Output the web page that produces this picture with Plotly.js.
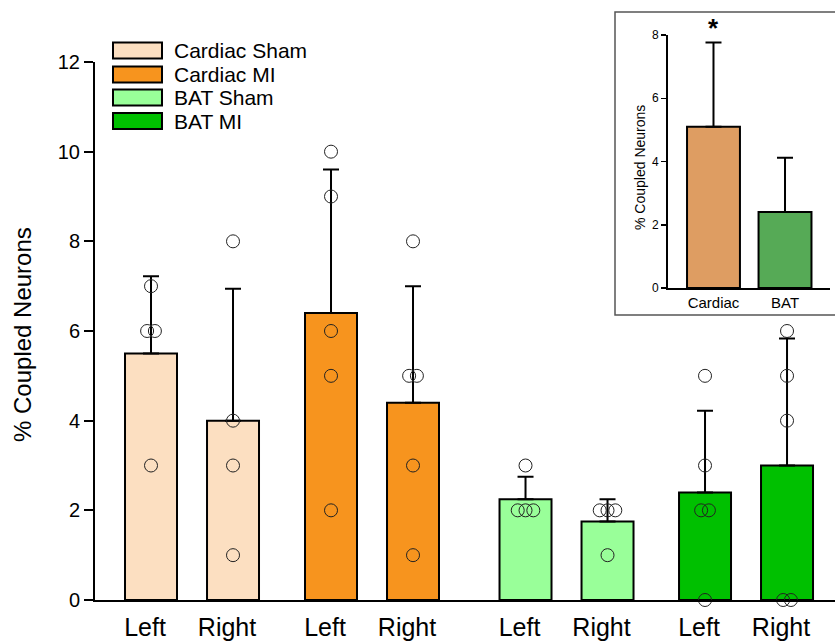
<!DOCTYPE html>
<html>
<head>
<meta charset="utf-8">
<script src="https://cdn.plot.ly/plotly-3.0.1.min.js"></script>
<style>html,body{margin:0;padding:0;background:#fff;}#chart{width:835px;height:642px;}</style>
</head>
<body>
<div id="chart"></div>
<script>
// ---- data ----
const groups = ['Cardiac Sham', 'Cardiac MI', 'BAT Sham', 'BAT MI'];
const sides = ['Left', 'Right'];

const cardiacShamMean = [5.5, 4.0];
const cardiacShamSD = [1.72, 2.94];
const cardiacShamPoints = [[3, 6, 6, 7], [1, 3, 4, 8]];

const cardiacMIMean = [6.4, 4.4];
const cardiacMISD = [3.2, 2.6];
const cardiacMIPoints = [[2, 5, 6, 9, 10], [1, 3, 5, 5, 8]];

const batShamMean = [2.25, 1.75];
const batShamSD = [0.5, 0.5];
const batShamPoints = [[2, 2, 2, 3], [1, 2, 2, 2]];

const batMIMean = [2.4, 3.0];
const batMISD = [1.82, 2.83];
const batMIPoints = [[0, 2, 2, 3, 5], [0, 0, 4, 5, 6]];

const insetCategories = ['Cardiac', 'BAT'];
const insetMean = [5.1, 2.4];
const insetSD = [2.66, 1.72];

// ---- styling / layout constants ----
const FONT = 'Liberation Sans, Arial, sans-serif';
const groupColors = ['#FCDFC1', '#F7941E', '#99FF99', '#00C000'];
const insetColors = ['#DE9D62', '#56AA56'];
const groupOffset = [0, 2.195, 4.567, 6.756];
const barWidth = 0.634;
const jitterStep = 0.095;

const means = [cardiacShamMean, cardiacMIMean, batShamMean, batMIMean];
const sds = [cardiacShamSD, cardiacMISD, batShamSD, batMISD];
const points = [cardiacShamPoints, cardiacMIPoints, batShamPoints, batMIPoints];

const traces = [];
const tickVals = [], tickText = [];

groups.forEach((g, gi) => {
  const xs = sides.map((s, si) => groupOffset[gi] + si);
  xs.forEach((x, si) => { tickVals.push(x); tickText.push(sides[si]); });
  traces.push({
    type: 'bar', name: g, x: xs, y: means[gi], width: barWidth,
    marker: {color: groupColors[gi], line: {color: '#000', width: 2}},
    error_y: {type: 'data', symmetric: false, array: sds[gi], arrayminus: sds[gi].map(() => 0),
              color: '#000', thickness: 2, width: 8},
    showlegend: false, hoverinfo: 'skip'
  });
});

// points (open circles), duplicates spread side by side
groups.forEach((g, gi) => {
  const px = [], py = [];
  sides.forEach((s, si) => {
    const vals = points[gi][si];
    const counts = {};
    vals.forEach(v => counts[v] = (counts[v] || 0) + 1);
    const seen = {};
    vals.forEach(v => {
      const n = counts[v];
      const k = seen[v] || 0;
      seen[v] = k + 1;
      px.push(groupOffset[gi] + si + (k - (n - 1) / 2) * jitterStep);
      py.push(v);
    });
  });
  traces.push({
    type: 'scatter', mode: 'markers', x: px, y: py, cliponaxis: false,
    marker: {symbol: 'circle-open', size: 13, color: '#222', line: {width: 1, color: '#222'}},
    showlegend: false, hoverinfo: 'skip'
  });
});

// inset bars
insetCategories.forEach((c, i) => {
  traces.push({
    type: 'bar', x: [i], y: [insetMean[i]], width: 0.74, xaxis: 'x2', yaxis: 'y2',
    marker: {color: insetColors[i], line: {color: '#000', width: 2}},
    error_y: {type: 'data', symmetric: false, array: [insetSD[i]], arrayminus: [0],
              color: '#000', thickness: 2, width: 8},
    showlegend: false, hoverinfo: 'skip'
  });
});

// custom legend (swatches + text)
const W = 740, H = 600, L = 95;
const px2x = p => (p - L) / W;
const px2y = p => (H - p) / H;
const legendRows = [50.5, 74.5, 97.5, 121];
const shapes = [];
const annotations = [];

shapes.push({type: 'rect', xref: 'paper', yref: 'paper', layer: 'below',
  x0: px2x(615), x1: 1.02, y0: px2y(315), y1: px2y(12),
  fillcolor: '#fff', line: {color: '#555', width: 1.5}});

groups.forEach((g, gi) => {
  const yc = legendRows[gi];
  shapes.push({type: 'rect', xref: 'paper', yref: 'paper',
    x0: px2x(113), x1: px2x(162), y0: px2y(yc + 8), y1: px2y(yc - 8),
    fillcolor: groupColors[gi], line: {color: '#000', width: 2}});
  annotations.push({xref: 'paper', yref: 'paper', x: px2x(172), y: px2y(yc),
    xanchor: 'left', yanchor: 'middle', showarrow: false, text: g,
    font: {family: FONT, size: 21, color: '#000'}});
});

annotations.push({xref: 'paper', yref: 'paper', x: px2x(22), y: px2y(335),
  xanchor: 'center', yanchor: 'middle', textangle: -90, showarrow: false,
  text: '% Coupled Neurons', font: {family: FONT, size: 24, color: '#000'}});
annotations.push({xref: 'paper', yref: 'paper', x: px2x(640), y: px2y(168),
  xanchor: 'center', yanchor: 'middle', textangle: -90, showarrow: false,
  text: '% Coupled Neurons', font: {family: FONT, size: 14, color: '#000'}});
annotations.push({xref: 'x2', yref: 'paper', x: 0, y: px2y(28),
  xanchor: 'center', yanchor: 'middle', showarrow: false,
  text: '<b>*</b>', font: {family: FONT, size: 26, color: '#000'}});

const layout = {
  width: 835, height: 642,
  margin: {l: 95, r: 0, t: 0, b: 42, pad: 0},
  paper_bgcolor: '#fff', plot_bgcolor: 'rgba(0,0,0,0)',
  barmode: 'overlay', showlegend: false,
  font: {family: FONT, color: '#000'},
  xaxis: {range: [-0.683, 8.341], showline: true, linecolor: '#000', linewidth: 2,
    tickvals: tickVals, ticktext: tickText, ticks: '', ticklabelshift: -6,
    ticklabelstandoff: 4,
    showgrid: false, zeroline: false, tickfont: {family: FONT, size: 25, color: '#000'},
    fixedrange: true},
  yaxis: {domain: [0, px2y(62)], range: [0, 12], dtick: 2, ticks: 'outside', ticklen: 9,
    tickwidth: 2, tickcolor: '#000', showline: true, linecolor: '#000', linewidth: 2,
    showgrid: false, zeroline: false, tickfont: {family: FONT, size: 20, color: '#000'}},
  xaxis2: {domain: [px2x(668), px2x(830)], anchor: 'y2', range: [-0.636, 1.629],
    tickvals: [0, 1], ticktext: insetCategories, ticks: '', showline: true,
    linecolor: '#000', linewidth: 2, showgrid: false, zeroline: false,
    tickfont: {family: FONT, size: 15, color: '#000'}},
  yaxis2: {domain: [px2y(288), px2y(35)], anchor: 'x2', range: [0, 8], dtick: 2,
    ticks: 'outside', ticklen: 5, tickwidth: 1.5, tickcolor: '#000', showline: true,
    linecolor: '#000', linewidth: 2, showgrid: false, zeroline: false,
    tickfont: {family: FONT, size: 12, color: '#000'}},
  shapes: shapes,
  annotations: annotations
};

Plotly.newPlot('chart', traces, layout, {displayModeBar: false, staticPlot: true});
</script>
</body>
</html>
